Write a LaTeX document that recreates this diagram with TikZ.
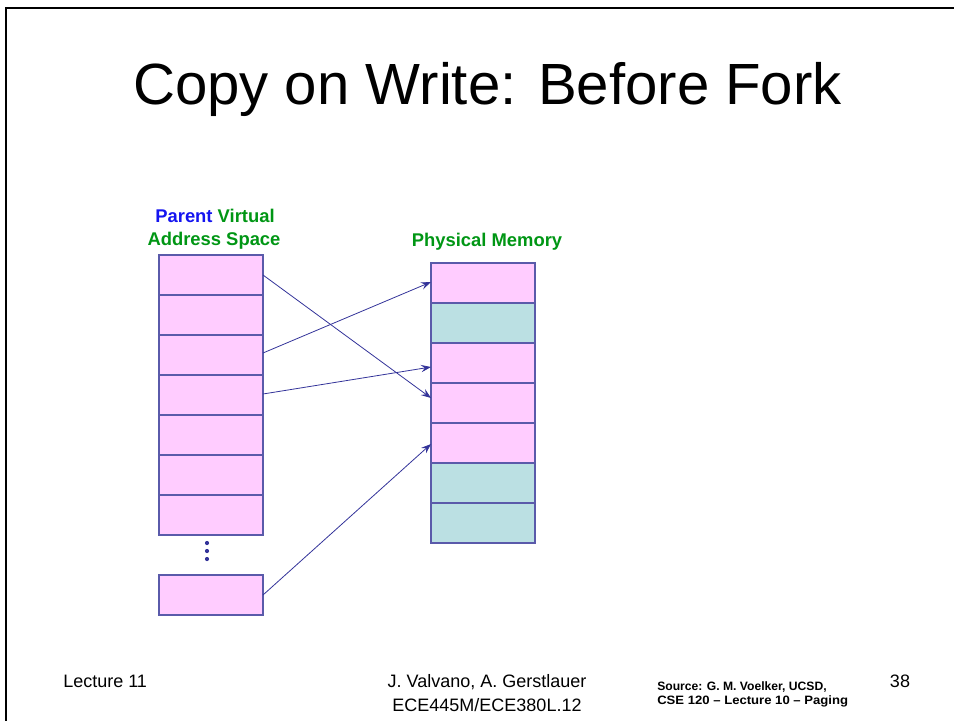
\documentclass[tikz,border=0pt]{standalone}
\usepackage{fontspec}
\usepackage{graphicx}
\setmainfont{Liberation Sans}
\usetikzlibrary{arrows.meta}
\definecolor{pinkc}{RGB}{255,204,255}
\definecolor{tealc}{RGB}{187,224,227}
\definecolor{edgec}{RGB}{90,90,170}
\definecolor{arrc}{RGB}{51,51,153}
\definecolor{pblue}{RGB}{20,20,240}
\definecolor{pgreen}{RGB}{0,150,20}
\tikzset{
  cell/.style={draw=edgec, line width=0.9pt, minimum width=78pt, minimum height=30pt, inner sep=0pt, outer sep=0pt},
  pcell/.style={cell, fill=pinkc},
  tcell/.style={cell, fill=tealc},
  map/.style={draw=arrc, line width=0.6pt, -{Stealth[length=7.5pt,width=5.5pt,inset=2.8pt]}},
  lbl/.style={font=\fontsize{13.8}{16}\selectfont\bfseries, inner sep=0pt, anchor=base},
  foot/.style={font=\fontsize{13.5}{16}\selectfont, inner sep=0pt, anchor=base},
  srcfont/.style={inner sep=0pt, anchor=base west, font=\fontsize{9.1}{11}\selectfont\bfseries},
}
\begin{document}
\begin{tikzpicture}[x=0.75pt, y=-0.75pt]
\useasboundingbox (0,0) rectangle (954,721);
% slide frame
\draw[line width=1.6pt] (954,8) -- (6,8) -- (6,721);
% title
\node[inner sep=0pt, anchor=base, font=\fontsize{43.6}{50}\selectfont] (title) at (487.5,104) {Copy on Write: Before Fork};
% headers
\node[lbl] (hp1) at (215,222) {\textcolor{pblue}{Parent} \textcolor{pgreen}{Virtual}};
\node[lbl, text=pgreen] (hp2) at (214,245) {Address Space};
\node[lbl, text=pgreen] (hm) at (487,246) {Physical Memory};
% parent virtual address space
\node[pcell] (L1) at (211,275) {};
\node[pcell] (L2) at (211,315) {};
\node[pcell] (L3) at (211,355) {};
\node[pcell] (L4) at (211,395) {};
\node[pcell] (L5) at (211,435) {};
\node[pcell] (L6) at (211,475) {};
\node[pcell] (L7) at (211,515) {};
\node[pcell] (L8) at (211,595) {};
% dots
\fill[arrc] (207,543) circle (2.1) (207,551) circle (2.1) (207,559) circle (2.1);
% physical memory
\node[pcell] (R1) at (483,283) {};
\node[tcell] (R2) at (483,323) {};
\node[pcell] (R3) at (483,363) {};
\node[pcell] (R4) at (483,403) {};
\node[pcell] (R5) at (483,443) {};
\node[tcell] (R6) at (483,483) {};
\node[tcell] (R7) at (483,523) {};
% mappings
\draw[map] (L1.east) -- ([yshift=3.75pt]R4.west);
\draw[map] ([yshift=1.5pt]L3.east) -- ([yshift=0.75pt]R1.west);
\draw[map] ([yshift=0.75pt]L4.east) -- ([yshift=-3pt]R3.west);
\draw[map] (L8.east) -- ([yshift=-0.75pt]R5.west);
% footer
\node[foot, anchor=base west] (lec) at (63,687) {Lecture 11};
\node[foot] (auth1) at (487,687) {J. Valvano, A. Gerstlauer};
\node[foot] (auth2) at (487,711) {ECE445M/ECE380L.12};
\node[srcfont] (src1) at (657,690) {Source: G. M. Voelker, UCSD,};
\node[srcfont] (src2) at (657,704) {\scalebox{1.08}[1]{CSE 120 -- Lecture 10 -- Paging}};
\node[foot] (num) at (900,687) {38};
\end{tikzpicture}
\end{document}
